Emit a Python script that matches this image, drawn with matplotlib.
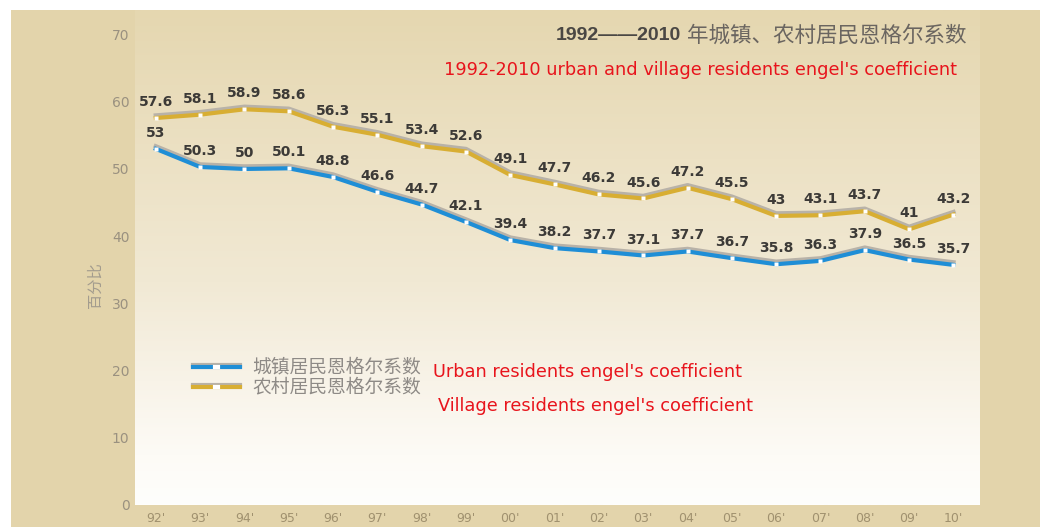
import numpy as np
import matplotlib
matplotlib.use("Agg")
import matplotlib.pyplot as plt
from matplotlib.colors import LinearSegmentedColormap
from matplotlib.lines import Line2D
from matplotlib.patches import Rectangle
from matplotlib.transforms import offset_copy

plt.rcParams["font.family"] = ["DejaVu Sans", "Noto Sans CJK SC"]

years = ["92'", "93'", "94'", "95'", "96'", "97'", "98'", "99'", "00'", "01'",
         "02'", "03'", "04'", "05'", "06'", "07'", "08'", "09'", "10'"]
urban = [53, 50.3, 50, 50.1, 48.8, 46.6, 44.7, 42.1, 39.4, 38.2,
         37.7, 37.1, 37.7, 36.7, 35.8, 36.3, 37.9, 36.5, 35.7]
village = [57.6, 58.1, 58.9, 58.6, 56.3, 55.1, 53.4, 52.6, 49.1, 47.7,
           46.2, 45.6, 47.2, 45.5, 43, 43.1, 43.7, 41, 43.2]
yticks = [0, 10, 20, 30, 40, 50, 60, 70]

W, H = 1048, 527
fig = plt.figure(figsize=(W / 100, H / 100), dpi=100)
fig.patch.set_facecolor("white")

# beige card behind everything
fig.add_artist(Rectangle((11 / W, 0), (1040 - 11) / W, (H - 10) / H,
                         transform=fig.transFigure, facecolor="#e3d4ab",
                         edgecolor="none", zorder=0))

ax = fig.add_axes([135 / W, 22 / H, (980 - 135) / W, (505 - 10) / H])
ax.set_facecolor("none")
for s in ax.spines.values():
    s.set_visible(False)

# vertical gradient inside plot area
grad = np.linspace(0, 1, 256).reshape(-1, 1)
cmap = LinearSegmentedColormap.from_list(
    "bg", [(0, "#e5d7b0"), (0.3, "#ece1c4"), (0.55, "#f1e9d4"),
           (0.75, "#f8f3e8"), (0.9, "#fdfbf6"), (1, "#fefefc")])
ax.imshow(grad, extent=[0, 1, 0, 1], transform=ax.transAxes, cmap=cmap,
          aspect="auto", zorder=0, origin="upper")

x = np.arange(len(years))
shadow = offset_copy(ax.transData, fig=fig, x=0, y=2.5, units="dots")

for vals, col in [(village, "#d8ae33"), (urban, "#1f8ed6")]:
    ax.plot(x, vals, color="#b8b2a8", lw=3.2, transform=shadow, zorder=2,
            solid_joinstyle="round")
    ax.plot(x, vals, color=col, lw=3.0, zorder=3, solid_joinstyle="round")
    ax.plot(x, vals, ls="none", marker="s", ms=3.0, mfc="white",
            mec="none", zorder=4)
    for xi, v in zip(x, vals):
        ax.annotate(f"{v:g}", (xi, v), xytext=(0, 11.5),
                    textcoords="offset points", ha="center", va="center",
                    fontsize=10, fontweight="bold", color="#3c3a37", zorder=5)

ax.set_xlim(-0.47, 18.6)
ax.set_ylim(-0.1, 73.7)
ax.set_yticks(yticks)
ax.set_yticklabels([str(t) for t in yticks])
ax.set_xticks(x)
ax.set_xticklabels(years)
ax.tick_params(axis="y", length=0, pad=4, labelsize=10, labelcolor="#9a9180")
ax.tick_params(axis="x", length=0, pad=5, labelsize=9, labelcolor="#a0916f")

fig.text(95 / W, 1 - 285 / H, "百分比", rotation=90, ha="center", va="center",
         fontsize=11, color="#a39c8e", family=["Noto Sans CJK SC"])

# titles
fig.text(681 / W, 1 - 36 / H, "1992——2010", ha="right", va="center",
         fontsize=14, fontweight="bold", color="#4a4744",
         family=["Liberation Sans", "DejaVu Sans"])
fig.text(966 / W, 1 - 36 / H, "年城镇、农村居民恩格尔系数", ha="right",
         va="center", fontsize=15.5, color="#6a6560",
         family=["Noto Sans CJK SC"])
fig.text(701 / W, 1 - 70 / H,
         "1992-2010 urban and village residents engel's coefficient",
         ha="center", va="center", fontsize=12.8, color="#e8141c")

# hand-drawn legend
for yy, col in [(367, "#1f8ed6"), (387, "#d8ae33")]:
    fy = 1 - yy / H
    fig.add_artist(Line2D([193 / W, 240 / W], [fy + 2.5 / H, fy + 2.5 / H],
                          transform=fig.transFigure, color="#b8b2a8", lw=3.0))
    fig.add_artist(Line2D([193 / W, 240 / W], [fy, fy],
                          transform=fig.transFigure, color=col, lw=3.0))
    fig.add_artist(Line2D([215 / W, 218 / W], [fy, fy],
                          transform=fig.transFigure, color="white", lw=3.0))
fig.text(252 / W, 1 - 367 / H, "城镇居民恩格尔系数", ha="left", va="center",
         fontsize=13.5, color="#8e8a86", family=["Noto Sans CJK SC"])
fig.text(252 / W, 1 - 387 / H, "农村居民恩格尔系数", ha="left", va="center",
         fontsize=13.5, color="#8e8a86", family=["Noto Sans CJK SC"])
fig.text(433 / W, 1 - 372 / H, "Urban residents engel's coefficient",
         ha="left", va="center", fontsize=12.8, color="#e8141c")
fig.text(438 / W, 1 - 406 / H, "Village residents engel's coefficient",
         ha="left", va="center", fontsize=12.8, color="#e8141c")

fig.savefig("out.png", dpi=100)
